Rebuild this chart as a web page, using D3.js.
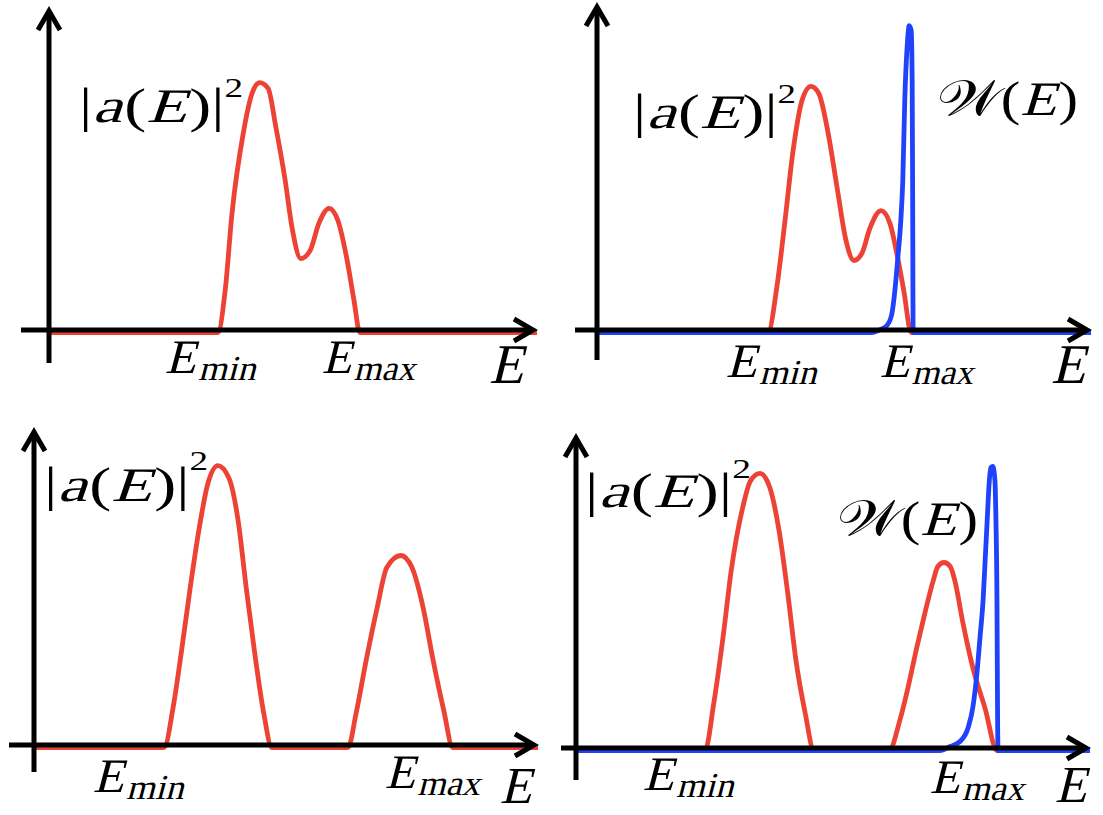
<!DOCTYPE html>
<html><head><meta charset="utf-8">
<script src="https://cdn.jsdelivr.net/npm/d3@7"></script>
<style>body{margin:0;background:#fff}svg{display:block}</style>
</head><body>
<svg id="c" width="1103" height="815"></svg>
<script>
// ---- data: [E (% of axis length), value (arbitrary units)] ----
const red1 = [[0,0],[34.6,0],[36.1,13.1],[37.5,37.2],[39.8,62.2],[41.6,74.7],[43.2,78.1],[44.9,76.3],[46.5,64.1],[48.4,47.5],[49.8,32.8],[51.6,23.1],[53.5,25.6],[55.3,34.1],[57.4,38.8],[59.2,35.0],[61.1,22.5],[62.5,10.0],[63.7,0],[100,0]];
const red2 = [[0,0],[34.6,0],[36.4,14.1],[37.9,32.8],[39.7,56.9],[41.5,72.5],[43.3,76.9],[44.9,74.7],[46.8,62.2],[48.6,45.3],[50.4,28.8],[52.0,22.5],[53.6,24.7],[55.3,32.8],[57.5,38.1],[59.3,34.1],[60.7,24.7],[62.1,13.1],[63.6,0],[100,0]];
const blue2 = [[0,0],[55.5,0],[57.3,0.9],[58.7,2.2],[59.7,5.9],[60.3,13.1],[60.9,23.4],[61.5,35.0],[61.9,47.5],[62.3,72.5],[62.8,89.7],[63.2,95.9],[63.6,94.4],[63.8,78.8],[63.9,41.3],[64.0,0],[100,0]];
const red3 = [[0,0],[25.8,0],[27.6,12.5],[29.2,29.4],[31.0,50],[32.7,67.8],[34.5,82.5],[36.5,88.1],[38.7,84.1],[40.5,70.9],[42.1,50],[43.8,29.4],[45.6,10.6],[47.2,0],[62.3,0],[63.9,10.6],[65.9,27.2],[68.1,43.75],[70.0,56.25],[72.8,60],[75.0,56.25],[77.2,43.75],[79.2,27.2],[81.3,11.6],[83.1,0],[100,0]];
const red4 = [[0,0],[25.1,0],[26.8,14.7],[28.6,35.3],[30.2,56.25],[32.3,75],[34.0,84.4],[35.8,86.6],[37.7,82.2],[39.5,68.75],[41.2,49.1],[42.8,28.1],[44.6,11.6],[46.3,0],[60.9,0],[63.0,9.4],[64.6,19.7],[66.3,32.2],[67.9,43.1],[69.5,53.1],[70.4,57.5],[71.6,58.75],[72.8,57.5],[73.7,53.1],[75.3,39.7],[77.2,25.9],[79.6,13.1],[81.9,0],[100,0]];
const blue4 = [[0,0],[70.8,0],[72.8,1.25],[74.7,2.8],[76.3,7.2],[77.2,13.4],[78.0,24.1],[78.6,35.3],[79.2,46.9],[79.6,59.4],[80.0,71.9],[80.35,82.8],[80.7,88.4],[81.1,88.75],[81.5,84.4],[81.7,71.9],[81.9,46.9],[82.0,15.6],[82.1,0],[100,0]];

// ---- text ----
const axisName = "E";
const subLabels = ["min", "max"];
const ampLabel = ["|", "a", "(", "E", ")", "|"];
const ampPower = "2";
const windowLabel = ["\u{1D4B2}", "(", "E", ")"];

const RED = "#ec4336", BLUE = "#2142fb";
const SERIF = '"Liberation Serif"';

// ---- layout ----
const panels = [
  {ax:49, tip:537, ay:330, top:7, bottom:363, left:21, red:red1, blue:null,
   amp:{x0:79,x1:243,y:122,sup:97}, win:null,
   emin:{x0:162,x1:264,y:373}, emax:{x0:319,x1:423,y:373}, e:{x0:486,y:383,fs:56}},
  {ax:597, tip:1091, ay:330, top:3, bottom:360, left:575, red:red2, blue:blue2,
   amp:{x0:633,x1:796,y:128,sup:103}, win:{x0:937,x1:1078,y:115},
   emin:{x0:723,x1:825,y:377}, emax:{x0:877,x1:981,y:377}, e:{x0:1048,y:383,fs:56}},
  {ax:34, tip:538, ay:745, top:428, bottom:772, left:9, red:red3, blue:null,
   amp:{x0:44,x1:208,y:501,sup:470}, win:null,
   emin:{x0:90,x1:192,y:792}, emax:{x0:382,x1:488,y:788}, e:{x0:497,y:803,fs:52}},
  {ax:576, tip:1090, ay:748, top:434, bottom:780, left:561, red:red4, blue:blue4,
   amp:{x0:585,x1:751,y:507,sup:478}, win:{x0:837,x1:978,y:535},
   emin:{x0:640,x1:742,y:790}, emax:{x0:927,x1:1032,y:793}, e:{x0:1052,y:802,fs:52}}
];

const svg = d3.select("#c");

// Build a label from pieces {s, it, fs, y}; italics are drawn as slanted upright glyphs.
function label(parent, pieces, x0, x1) {
  const lg = parent.append("g");
  const inner = lg.append("g");
  let cx = 0;
  pieces.forEach(pc => {
    const t = inner.append("text").text(pc.s).attr("font-size", pc.fs).attr("fill", "#000")
      .style("font-family", SERIF).style("font-style", "normal")
      .attr("transform", `translate(${cx},${pc.y})` + (pc.it ? " skewX(-14)" : ""));
    cx += t.node().getComputedTextLength() + (pc.it ? pc.fs * 0.04 : 0);
  });
  const b = inner.node().getBBox();
  const sx = x1 == null ? 1 : (x1 - x0) / b.width;
  lg.attr("transform", `translate(${x0 - b.x * sx},0) scale(${sx},1)`);
}

panels.forEach(p => {
  const x = d3.scaleLinear().domain([0, 100]).range([p.ax, p.tip]);
  const zero = p.ay + 2.5;
  const y = d3.scaleLinear().domain([0, 100]).range([zero, zero - 320]);
  const line = d3.line().x(d => x(d[0])).y(d => y(d[1])).curve(d3.curveMonotoneX);
  const g = svg.append("g");

  g.append("path").datum(p.red).attr("d", line)
    .attr("fill", "none").attr("stroke", RED).attr("stroke-width", 4.8)
    .attr("stroke-linejoin", "round");
  if (p.blue) {
    g.append("path").datum(p.blue).attr("d", line)
      .attr("fill", "none").attr("stroke", BLUE).attr("stroke-width", 4.8)
      .attr("stroke-linejoin", "round");
  }

  // axes
  const ax = g.append("g").attr("stroke", "#000").attr("stroke-width", 5).attr("fill", "none");
  const tipX = x(100) - 4;
  ax.append("line").attr("x1", p.left).attr("x2", tipX).attr("y1", p.ay).attr("y2", p.ay);
  ax.append("path").attr("d", `M${tipX - 19},${p.ay - 11}L${tipX},${p.ay}L${tipX - 19},${p.ay + 11}`);
  const topY = p.top + 4;
  ax.append("line").attr("x1", p.ax).attr("x2", p.ax).attr("y1", p.bottom).attr("y2", topY);
  ax.append("path").attr("d", `M${p.ax - 11},${topY + 19}L${p.ax},${topY}L${p.ax + 11},${topY + 19}`);

  // labels
  const a = p.amp;
  label(g, ampLabel.map((s, i) => ({s, it: i === 1 || i === 3, fs: 48, y: a.y}))
    .concat([{s: ampPower, it: false, fs: 27, y: a.sup}]), a.x0, a.x1);
  if (p.win) {
    const w = p.win;
    label(g, windowLabel.map((s, i) => ({s, it: i === 2, fs: i === 0 ? 50 : 48, y: w.y})), w.x0, w.x1);
  }
  [p.emin, p.emax].forEach((spec, i) => {
    label(g, [{s: axisName, it: true, fs: 48, y: spec.y},
              {s: subLabels[i], it: true, fs: 35, y: spec.y + 7}], spec.x0, spec.x1);
  });
  label(g, [{s: axisName, it: true, fs: p.e.fs, y: p.e.y}], p.e.x0, null);
});
</script>
</body></html>
